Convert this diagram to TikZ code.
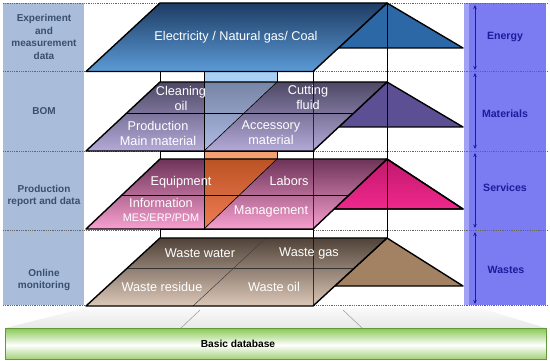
\documentclass[tikz,border=0pt]{standalone}
\usepackage{fontspec}
\setmainfont{Liberation Sans}
\usetikzlibrary{arrows.meta}
\definecolor{leftpanel}{HTML}{A9BDDB}
\definecolor{rightpanel}{HTML}{7C7CF2}
\definecolor{rightstrip}{HTML}{A2A2F6}
\definecolor{leftlabel}{HTML}{3A4E6E}
\definecolor{rightlabel}{HTML}{1C1C9C}
\definecolor{enTop}{HTML}{1E3C64}
\definecolor{enBot}{HTML}{5B9BD6}
\definecolor{enTri}{HTML}{2C68A6}
\definecolor{maTop}{HTML}{4E4866}
\definecolor{maBot}{HTML}{B3AAD8}
\definecolor{maTri}{HTML}{5C4F93}
\definecolor{seTop}{HTML}{6E3358}
\definecolor{seBot}{HTML}{F7A0D0}
\definecolor{seTriTop}{HTML}{C0186C}
\definecolor{seTriBot}{HTML}{F0288C}
\definecolor{waTop}{HTML}{504238}
\definecolor{waBot}{HTML}{DCC8B8}
\definecolor{waTri}{HTML}{A28262}
\definecolor{ltblue}{HTML}{A9CFF3}
\definecolor{orTop}{HTML}{C4561F}
\definecolor{orBot}{HTML}{F07A48}
\definecolor{orGap}{HTML}{F4A070}
\definecolor{grTop}{HTML}{86C850}
\definecolor{grBot}{HTML}{A2D27A}
\begin{document}
\begin{tikzpicture}[x=1pt,y=-1pt,
  dotline/.style={densely dotted, draw=black!60, line width=0.8pt},
  slab/.style={draw=black, line width=1.4pt, line join=round},
  gapbox/.style={draw=black, line width=0.6pt, fill=white},
  thinv/.style={draw=black, line width=0.6pt},
  layertext/.style={text=white, font=\fontsize{12.7}{15}\selectfont, align=center, inner sep=0pt},
  smalltext/.style={text=white, font=\fontsize{10.9}{13}\selectfont, align=center, inner sep=0pt},
  leftlab/.style={text=leftlabel, font=\bfseries\fontsize{10}{12.7}\selectfont, align=center, inner sep=0pt},
  rightlab/.style={text=rightlabel, font=\bfseries\fontsize{10.6}{13}\selectfont, inner sep=0pt},
  rarrow/.style={{Stealth[length=4pt,width=3.5pt]}-{Stealth[length=4pt,width=3.5pt]}, draw=rightlabel, line width=0.7pt}]
\useasboundingbox (0,0) rectangle (550,361);
% side panels
\fill[leftpanel] (3,3) rectangle (84,305);
\fill[rightpanel] (464,3) rectangle (546,305);
\fill[rightstrip] (464,3) rectangle (469,305);
% row separators
\foreach \yy in {3,71.5,151,230,305} \draw[dotline] (3,\yy) -- (547,\yy);
% gaps between layers
\draw[gapbox] (160,71.5) rectangle (313,82);
\draw[gapbox, fill=ltblue] (204,71.5) rectangle (277,82);
\draw[gapbox] (160,151) rectangle (313,159);
\draw[gapbox, fill=orGap] (204,151) rectangle (277,159);
\draw[gapbox] (160,229) rectangle (313,238);
% energy layer
\draw[slab, fill=enTri] (387,3) -- (463,48) -- (338.5,48) -- cycle;
\shade[top color=enTop, bottom color=enBot] (160,3) -- (387,3) -- (313,71.5) -- (86,71.5) -- cycle;
\draw[slab] (160,3) -- (387,3) -- (313,71.5) -- (86,71.5) -- cycle;
% materials layer
\draw[slab, fill=maTri] (387,82) -- (463,127) -- (338.7,127) -- cycle;
\shade[top color=maTop, bottom color=maBot] (160,82) -- (387,82) -- (313,151) -- (86,151) -- cycle;
\fill[ltblue, opacity=0.45] (204,82) -- (277,82) -- (204,151) -- cycle;
\draw[line width=0.6pt] (126.8,113) -- (353.8,113);
\draw[line width=0.6pt] (277,82) -- (204,151);
\draw[line width=0.6pt] (204,82) -- (204,151);
\draw[slab] (160,82) -- (387,82) -- (313,151) -- (86,151) -- cycle;
% services layer
\shade[slab, top color=seTriTop, bottom color=seTriBot] (387,159) -- (463,209) -- (334,209) -- cycle;
\draw[slab] (387,159) -- (463,209) -- (334,209) -- cycle;
\shade[top color=seTop, bottom color=seBot] (160,159) -- (387,159) -- (313,229) -- (86,229) -- cycle;
\shade[top color=orTop, bottom color=orBot, opacity=0.9] (204,159) -- (277,159) -- (204,229) -- cycle;
\draw[line width=0.6pt] (122,195) -- (349,195);
\draw[line width=0.6pt] (277,159) -- (204,229);
\draw[line width=0.6pt] (204,159) -- (204,229);
\draw[slab] (160,159) -- (387,159) -- (313,229) -- (86,229) -- cycle;
% wastes layer
\draw[slab, fill=waTri] (387,238) -- (463,286) -- (334.8,286) -- cycle;
\shade[top color=waTop, bottom color=waBot] (160,238) -- (387,238) -- (313,306) -- (86,306) -- cycle;
\draw[line width=0.6pt, draw=black!80] (127.4,268) -- (354.4,268);
\draw[line width=0.5pt, draw=black!75] (266,238) -- (193,306);
\draw[slab] (160,238) -- (387,238) -- (313,306) -- (86,306) -- cycle;
% back verticals
\draw[thinv] (387,3) -- (387,238);
\draw[thinv, opacity=0.7] (313,82) -- (313,151);
\draw[thinv, opacity=0.7] (313,159) -- (313,229);
\draw[thinv, opacity=0.7] (313,238) -- (313,306);
% layer texts
\node[layertext] (elec) at (236,37) {Electricity / Natural gas/ Coal};
\node[layertext] (clean) at (181,98) {Cleaning\\oil};
\node[layertext] (cut) at (308,97) {Cutting\\fluid};
\node[layertext] (prod) at (158,133) {Production\\Main material};
\node[layertext] (acc) at (271,133) {Accessory\\material};
\node[layertext] (equip) at (181,182) {Equipment};
\node[layertext] (labor) at (289,181) {Labors};
\node[layertext] (info) at (161,203) {Information};
\node[smalltext] (mes) at (161,218) {MES/ERP/PDM};
\node[layertext] (mgmt) at (271,211) {Management};
\node[layertext] (wwater) at (200,253) {Waste water};
\node[layertext] (wgas) at (309,253) {Waste gas};
\node[layertext] (wres) at (162,287) {Waste residue};
\node[layertext] (woil) at (274,287) {Waste oil};
% left labels
\node[leftlab] (lexp) at (44,37) {Experiment\\and\\measurement\\data};
\node[leftlab] (lbom) at (44,111) {BOM};
\node[leftlab] (lprod) at (44,196) {Production\\report and data};
\node[leftlab] (lonl) at (44,280) {Online\\monitoring};
% right labels and arrows
\node[rightlab] (renergy) at (505,37) {Energy};
\node[rightlab] (rmat) at (505,114) {Materials};
\node[rightlab] (rserv) at (505,188) {Services};
\node[rightlab] (rwaste) at (506,270) {Wastes};
\coordinate (a1) at (475,5);   \coordinate (b1) at (475,70);
\coordinate (a2) at (475,73);  \coordinate (b2) at (475,149);
\coordinate (a3) at (475,153); \coordinate (b3) at (475,228);
\coordinate (a4) at (475,232); \coordinate (b4) at (475,304);
\draw[rarrow] (a1) -- (b1);
\draw[rarrow] (a2) -- (b2);
\draw[rarrow] (a3) -- (b3);
\draw[rarrow] (a4) -- (b4);
% basic database
\shade[top color=white!96!gray, bottom color=black!9!white] (85,308) -- (480,308) -- (546,328) -- (5,328) -- cycle;
\draw[black!40, line width=0.5pt] (200,310) -- (181,328);
\draw[black!40, line width=0.5pt] (343,310) -- (362,328);
\shade[top color=grTop, bottom color=white] (5,328) rectangle (546,345);
\shade[top color=white, bottom color=grBot] (5,345) rectangle (546,359);
\draw[black!25!grTop, line width=0.4pt] (5,328) rectangle (546,359);
\node[font=\bfseries\fontsize{10.2}{12}\selectfont, inner sep=0pt] (basic) at (238,344) {Basic database};
\end{tikzpicture}
\end{document}
